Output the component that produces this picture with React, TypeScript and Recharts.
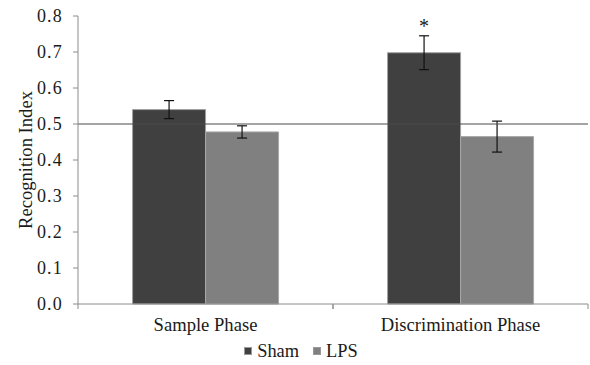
import {
  Bar,
  BarChart,
  ErrorBar,
  LabelList,
  Legend,
  ReferenceLine,
  XAxis,
  YAxis,
} from "recharts";

// Values (mean ± SEM)
const categories = ["Sample Phase", "Discrimination Phase"];
const seriesNames = ["Sham", "LPS"];
const shamValues = [0.54, 0.698];
const shamErrors = [0.025, 0.047];
const lpsValues = [0.478, 0.465];
const lpsErrors = [0.017, 0.043];
const significance = ["", "*"];
const yTicks = [0, 0.1, 0.2, 0.3, 0.4, 0.5, 0.6, 0.7, 0.8];

const FONT = "Liberation Serif, DejaVu Serif, serif";
const AXIS_GRAY = "#8c8c8c";

const data = categories.map((name, i) => ({
  name,
  sham: shamValues[i],
  shamErr: shamErrors[i],
  lps: lpsValues[i],
  lpsErr: lpsErrors[i],
  sig: significance[i],
}));

// Excel-style category axis: label in the middle, tick marks on the
// category boundaries (payload.offset is half the band width).
function CategoryTick(props: any) {
  const { x, y, payload } = props;
  const half = payload?.offset ?? 0;
  return (
    <g>
      <line x1={x - half} x2={x - half} y1={y} y2={y + 5} stroke={AXIS_GRAY} />
      <line x1={x + half} x2={x + half} y1={y} y2={y + 5} stroke={AXIS_GRAY} />
      <text
        x={x}
        y={y + 27}
        textAnchor="middle"
        fill="#1a1a1a"
        fontFamily={FONT}
        fontSize={18.6}
      >
        {payload.value}
      </text>
    </g>
  );
}

function YTitle(props: any) {
  const { viewBox } = props;
  const cx = viewBox.x + 25;
  const cy = viewBox.y + viewBox.height / 2;
  return (
    <text
      x={cx}
      y={cy}
      transform={`rotate(-90 ${cx} ${cy})`}
      textAnchor="middle"
      dominantBaseline="central"
      fill="#1a1a1a"
      fontFamily={FONT}
      fontSize={18.6}
    >
      Recognition Index
    </text>
  );
}

function LegendContent(props: any) {
  const { payload = [] } = props;
  const ordered = seriesNames
    .map((n) => payload.find((p: any) => p.value === n))
    .filter(Boolean);
  return (
    <div
      style={{
        display: "flex",
        justifyContent: "center",
        alignItems: "center",
        height: "100%",
        paddingLeft: 14,
        fontFamily: FONT,
        fontSize: 18.4,
        color: "#1a1a1a",
      }}
    >
      {ordered.map((entry: any) => (
        <span
          key={entry.value}
          style={{ display: "flex", alignItems: "center", margin: "0 7px" }}
        >
          <span
            style={{
              width: 8,
              height: 8,
              background: entry.color,
              border: "1px solid #999",
              boxSizing: "border-box",
              marginRight: 5,
            }}
          />
          {entry.value}
        </span>
      ))}
    </div>
  );
}

export default function App() {
  return (
    <div style={{ position: "absolute", left: 0, top: 0, background: "#fff" }}>
      <BarChart
        width={590}
        height={365}
        data={data}
        margin={{ top: 16, right: 2, bottom: 2, left: 0 }}
        barCategoryGap="21.4%"
        barGap={0}
      >
        <XAxis
          dataKey="name"
          height={35}
          stroke={AXIS_GRAY}
          tickLine={false}
          tickSize={0}
          tickMargin={0}
          tick={<CategoryTick />}
          interval={0}
        />
        <YAxis
          width={78}
          domain={[0, 0.8]}
          ticks={yTicks}
          tickFormatter={(v: number) => v.toFixed(1)}
          stroke={AXIS_GRAY}
          tickSize={5}
          tickMargin={10}
          tick={{
            fill: "#1a1a1a",
            fontFamily: FONT,
            fontSize: 18,
            letterSpacing: 1.2,
          }}
          label={<YTitle />}
        />
        <Legend
          verticalAlign="bottom"
          height={24}
          content={<LegendContent />}
        />
        <Bar
          dataKey="sham"
          name="Sham"
          fill="#404040"
          stroke="#a0a0a0"
          strokeWidth={1}
          isAnimationActive={false}
        >
          <ErrorBar dataKey="shamErr" width={5} stroke="#111" strokeWidth={1.2} />
          <LabelList
            dataKey="sig"
            position="top"
            offset={20}
            fill="#1a1a1a"
            fontFamily={FONT}
            fontSize={20}
          />
        </Bar>
        <Bar
          dataKey="lps"
          name="LPS"
          fill="#808080"
          stroke="#a8a8a8"
          strokeWidth={1}
          isAnimationActive={false}
        >
          <ErrorBar dataKey="lpsErr" width={5} stroke="#111" strokeWidth={1.2} />
        </Bar>
        <ReferenceLine y={0.5} stroke="#4a4a4a" strokeWidth={1} />
      </BarChart>
    </div>
  );
}
